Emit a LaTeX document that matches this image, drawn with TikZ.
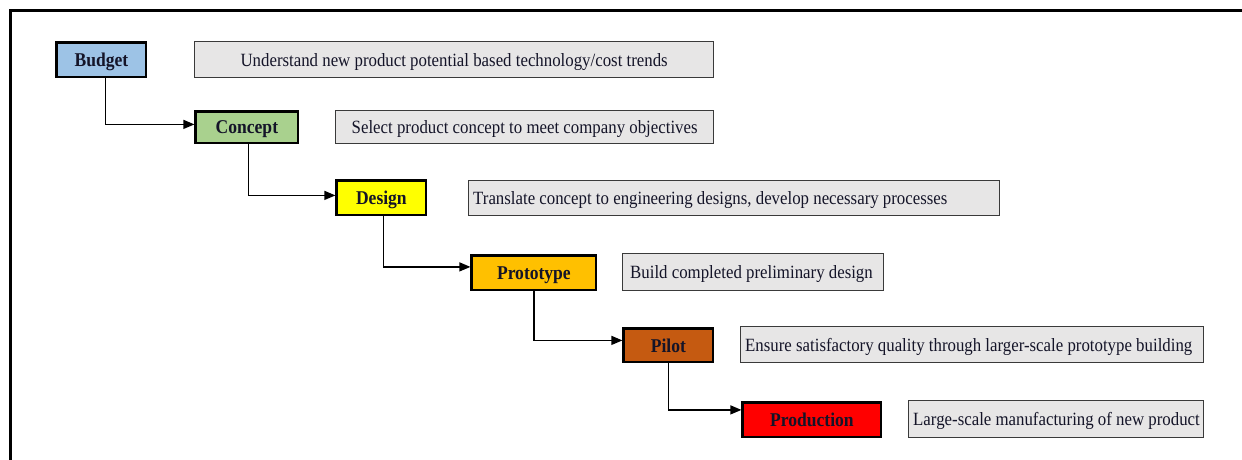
\documentclass[tikz,border=0pt]{standalone}
\usepackage{fontspec}
\setmainfont{Liberation Serif}[FakeStretch=0.9]
\usetikzlibrary{arrows.meta}
\definecolor{cbudget}{HTML}{9DC3E6}
\definecolor{cconcept}{HTML}{A9D18E}
\definecolor{cdesign}{HTML}{FFFF00}
\definecolor{cproto}{HTML}{FFC000}
\definecolor{cpilot}{HTML}{C55A11}
\definecolor{cprod}{HTML}{FF0000}
\definecolor{cdesc}{HTML}{E7E6E6}
\definecolor{cdescline}{HTML}{3A3A3A}
\definecolor{ctext}{HTML}{141428}
\begin{document}
\begin{tikzpicture}[x=1pt,y=-1pt,
  stagebox/.style={draw=black,line width=2.8pt,inner sep=0pt,anchor=north west,
    xshift=1.4pt,yshift=-1.4pt,text depth=-2.5pt,text=ctext,
    font=\fontsize{19.5}{22}\selectfont\bfseries},
  descbox/.style={draw=cdescline,fill=cdesc,line width=1.3pt,inner sep=0pt,anchor=north west},
  desctext/.style={inner sep=0pt,yshift=-2pt,text=ctext,font=\fontsize{18.7}{22}\selectfont},
  conn/.style={line width=1.2pt,-{Triangle[length=11pt,width=9pt]}},
  frame/.style={line width=3pt,line cap=rect}]
\useasboundingbox (0,0) rectangle (1242,460);
\draw[frame] (10,460) -- (10,11) -- (1242,11);
% stage boxes
\node[stagebox,fill=cbudget,minimum width=89.2pt,minimum height=34.2pt] (budget) at (54,40) {Budget};
\node[stagebox,fill=cconcept,minimum width=102.2pt,minimum height=31.2pt] (concept) at (193,109) {Concept};
\node[stagebox,fill=cdesign,minimum width=89.2pt,minimum height=34.2pt] (design) at (334,178) {Design};
\node[stagebox,fill=cproto,minimum width=124.2pt,minimum height=34.2pt] (proto) at (469,253) {Prototype};
\node[stagebox,fill=cpilot,minimum width=89.2pt,minimum height=33.2pt] (pilot) at (621,326) {Pilot};
\node[stagebox,fill=cprod,minimum width=138.2pt,minimum height=34.2pt] (prod) at (740,400) {Production};
% description boxes
\node[descbox,minimum width=519pt,minimum height=36pt] (d1) at (194,41) {};
\node[descbox,minimum width=378pt,minimum height=33pt] (d2) at (335,110) {};
\node[descbox,minimum width=531pt,minimum height=35pt] (d3) at (468,180) {};
\node[descbox,minimum width=261pt,minimum height=37pt] (d4) at (622,253) {};
\node[descbox,minimum width=463pt,minimum height=36pt] (d5) at (740,326) {};
\node[descbox,minimum width=295pt,minimum height=37pt] (d6) at (908,400) {};
\node[desctext] (t1) at (d1.center) {Understand new product potential based technology/cost trends};
\node[desctext] (t2) at (d2.center) {Select product concept to meet company objectives};
\node[desctext,anchor=west] (t3) at ([xshift=5pt]d3.west) {Translate concept to engineering designs, develop necessary processes};
\node[desctext,anchor=west] (t4) at ([xshift=8pt]d4.west) {Build completed preliminary design};
\node[desctext,anchor=west] (t5) at ([xshift=5pt]d5.west) {Ensure satisfactory quality through larger-scale prototype building};
\node[desctext,anchor=west] (t6) at ([xshift=5pt]d6.west) {Large-scale manufacturing of new product};
% connectors
\draw[conn] ([xshift=4pt]budget.south) |- ([yshift=3pt]concept.west);
\draw[conn] ([xshift=1.5pt]concept.south) |- ([yshift=2.5pt]design.west);
\draw[conn] ([xshift=2pt]design.south) |- ([yshift=6pt]proto.west);
\draw[conn] ([xshift=0pt]proto.south) |- ([yshift=5pt]pilot.west);
\draw[conn] ([xshift=0pt]pilot.south) |- ([yshift=10pt]prod.west);
\end{tikzpicture}
\end{document}
